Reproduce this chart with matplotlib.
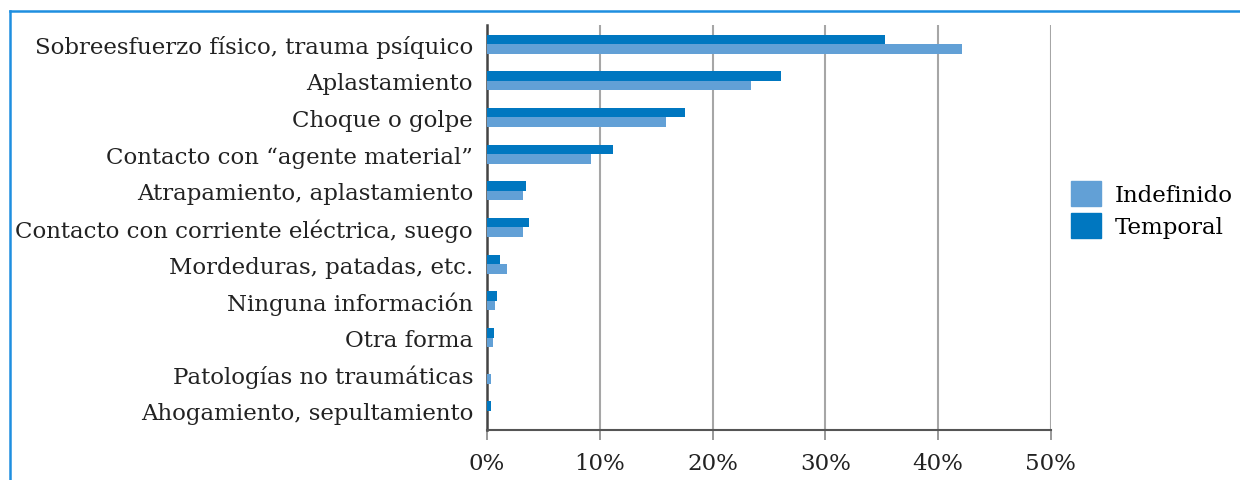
import numpy as np
import matplotlib.pyplot as plt
from matplotlib.patches import Patch
from matplotlib.lines import Line2D

categorias = ["Sobreesfuerzo físico, trauma psíquico", "Aplastamiento", "Choque o golpe",
              "Contacto con “agente material”", "Atrapamiento, aplastamiento",
              "Contacto con corriente eléctrica, suego", "Mordeduras, patadas, etc.",
              "Ninguna información", "Otra forma", "Patologías no traumáticas",
              "Ahogamiento, sepultamiento"]
temporal   = [35.3, 26.1, 17.6, 11.2, 3.5, 3.7, 1.2, 0.9, 0.6, 0.0, 0.4]
indefinido = [42.1, 23.4, 15.9, 9.2, 3.2, 3.2, 1.8, 0.7, 0.5, 0.4, 0.0]
xticks = [0, 10, 20, 30, 40, 50]

c_temp = "#0077c0"
c_indef = "#62a0d6"
plt.rcParams["font.family"] = ["DejaVu Serif"]

fig = plt.figure(figsize=(12.4, 4.81), dpi=100)
ax = fig.add_axes([0.3927, 0.104, 0.4548, 0.842])

y = np.arange(len(categorias))
h = 0.26
ax.barh(y - h/2, temporal, height=h, color=c_temp, zorder=3)
ax.barh(y + h/2, indefinido, height=h, color=c_indef, zorder=3)

ax.set_xlim(0, 50)
ax.set_ylim(len(categorias) - 0.48, -0.52)
ax.set_xticks(xticks)
ax.set_xticklabels([f"{v}%" for v in xticks], fontsize=16.5, color="#222222")
ax.set_yticks(y)
ax.set_yticklabels(categorias, fontsize=16.5, color="#222222")
ax.tick_params(axis="y", length=0, pad=10)
ax.tick_params(axis="x", length=7, width=1.2, color="#888888", pad=9, direction="out")
ax.grid(axis="x", color="#a6a6a6", lw=1.5, zorder=0)
for s in ["top", "right"]:
    ax.spines[s].set_visible(False)
ax.spines["left"].set_color("#444444")
ax.spines["left"].set_linewidth(1.8)
ax.spines["bottom"].set_color("#555555")
ax.spines["bottom"].set_linewidth(1.5)

handles = [Patch(color=c_indef), Patch(color=c_temp)]
fig.legend(handles, ["Indefinido", "Temporal"], loc="center left",
           bbox_to_anchor=(0.847, 0.562), frameon=False, fontsize=16.5,
           handlelength=1.3, handleheight=1.3, handletextpad=0.6, labelspacing=0.3)

# marco azul
fig.add_artist(Line2D([10/1240, 1], [1 - 12/481, 1 - 12/481], color="#1e8fe0", lw=1.8))
fig.add_artist(Line2D([10/1240, 10/1240], [0, 1 - 12/481], color="#1e8fe0", lw=1.8))

fig.savefig("out.png", dpi=100)
